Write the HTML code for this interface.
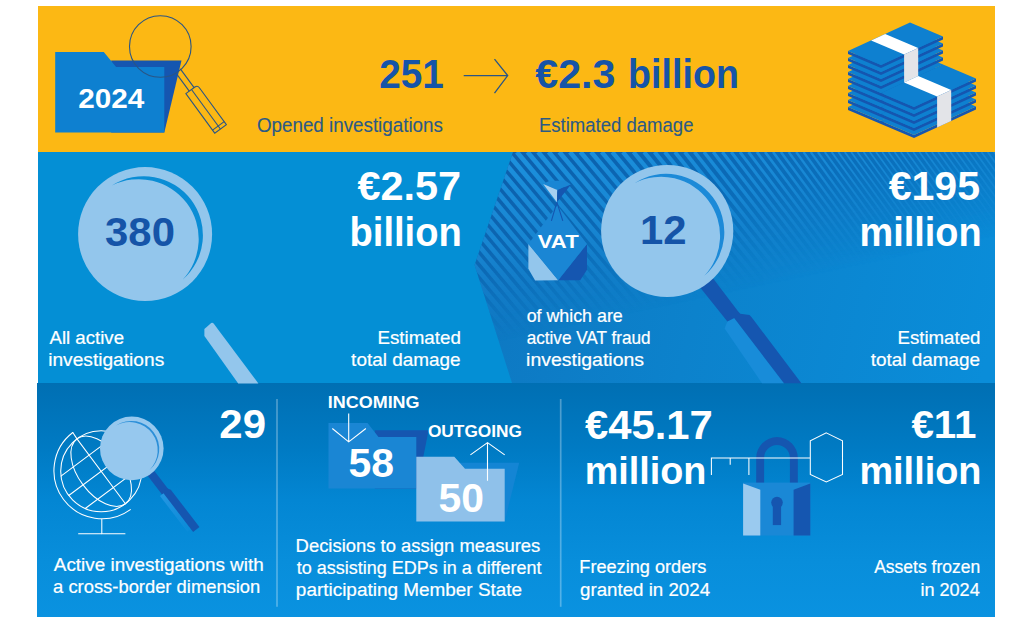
<!DOCTYPE html>
<html lang="en">
<head>
<meta charset="utf-8">
<title>EPPO 2024 investigations infographic</title>
<style>
html,body{margin:0;padding:0;background:#fff;}
body{width:1024px;height:625px;overflow:hidden;font-family:"Liberation Sans",sans-serif;}
svg{display:block;}
svg text{font-family:"Liberation Sans",sans-serif;}
</style>
</head>
<body>
<svg width="1024" height="625" viewBox="0 0 1024 625">
<defs>
<linearGradient id="gBot" x1="0" y1="0" x2="0" y2="1">
  <stop offset="0" stop-color="#006FB3"/>
  <stop offset="0.29" stop-color="#007BC4"/>
  <stop offset="0.5" stop-color="#0386D3"/>
  <stop offset="0.76" stop-color="#088EDB"/>
  <stop offset="1" stop-color="#0A92E0"/>
</linearGradient>
<linearGradient id="gRight" gradientUnits="userSpaceOnUse" x1="474" y1="200" x2="995" y2="330">
  <stop offset="0" stop-color="#0E77C1"/>
  <stop offset="0.45" stop-color="#0C82CC"/>
  <stop offset="1" stop-color="#0A8DD9"/>
</linearGradient>
<linearGradient id="gFade" gradientUnits="userSpaceOnUse" x1="560" y1="152" x2="596" y2="322">
  <stop offset="0" stop-color="#fff" stop-opacity="1"/>
  <stop offset="0.45" stop-color="#fff" stop-opacity="0.75"/>
  <stop offset="1" stop-color="#fff" stop-opacity="0"/>
</linearGradient>
<mask id="mFade" maskUnits="userSpaceOnUse" x="0" y="0" width="1024" height="625">
  <rect x="0" y="0" width="1024" height="625" fill="url(#gFade)"/>
</mask>
<clipPath id="cRight"><polygon points="513,152 995,152 995,383 512,383 474.6,265"/></clipPath>
</defs>
<rect x="38" y="6" width="957" height="147" fill="#FCB814"/>
<rect x="38" y="152" width="957" height="232" fill="#048FD5"/>
<g clip-path="url(#cRight)">
<rect x="470" y="152" width="525" height="231" fill="url(#gRight)"/>
<rect x="470" y="152" width="525" height="231" fill="#0C3F8E" opacity="0.42" mask="url(#mFade)"/>
<g mask="url(#mFade)" stroke="#1C90DC" fill="none"><line x1="251.91" y1="152" x2="445.74" y2="383" stroke-width="4.71"/><line x1="262.51" y1="152" x2="456.34" y2="383" stroke-width="4.71"/><line x1="273.11" y1="152" x2="466.94" y2="383" stroke-width="4.71"/><line x1="283.71" y1="152" x2="477.54" y2="383" stroke-width="4.71"/><line x1="294.31" y1="152" x2="488.14" y2="383" stroke-width="4.71"/><line x1="304.91" y1="152" x2="498.74" y2="383" stroke-width="4.71"/><line x1="315.51" y1="152" x2="509.34" y2="383" stroke-width="4.71"/><line x1="326.11" y1="152" x2="519.94" y2="383" stroke-width="4.71"/><line x1="336.71" y1="152" x2="530.54" y2="383" stroke-width="4.71"/><line x1="347.31" y1="152" x2="541.14" y2="383" stroke-width="4.71"/><line x1="357.91" y1="152" x2="551.74" y2="383" stroke-width="4.71"/><line x1="368.51" y1="152" x2="562.34" y2="383" stroke-width="4.71"/><line x1="379.11" y1="152" x2="572.94" y2="383" stroke-width="4.71"/><line x1="389.71" y1="152" x2="583.54" y2="383" stroke-width="4.71"/><line x1="400.31" y1="152" x2="594.14" y2="383" stroke-width="4.71"/><line x1="410.91" y1="152" x2="604.74" y2="383" stroke-width="4.71"/><line x1="421.51" y1="152" x2="615.34" y2="383" stroke-width="4.71"/><line x1="432.11" y1="152" x2="625.94" y2="383" stroke-width="4.71"/><line x1="442.71" y1="152" x2="636.54" y2="383" stroke-width="4.71"/><line x1="453.31" y1="152" x2="647.14" y2="383" stroke-width="4.71"/><line x1="463.91" y1="152" x2="657.74" y2="383" stroke-width="4.71"/><line x1="474.51" y1="152" x2="668.34" y2="383" stroke-width="4.71"/><line x1="485.11" y1="152" x2="678.94" y2="383" stroke-width="4.71"/><line x1="495.71" y1="152" x2="689.54" y2="383" stroke-width="4.71"/><line x1="506.31" y1="152" x2="700.14" y2="383" stroke-width="4.71"/><line x1="516.91" y1="152" x2="710.74" y2="383" stroke-width="4.71"/><line x1="527.51" y1="152" x2="721.34" y2="383" stroke-width="4.71"/><line x1="538.11" y1="152" x2="731.94" y2="383" stroke-width="4.71"/><line x1="548.71" y1="152" x2="742.54" y2="383" stroke-width="4.71"/><line x1="559.31" y1="152" x2="753.14" y2="383" stroke-width="4.71"/><line x1="569.91" y1="152" x2="763.74" y2="383" stroke-width="4.65"/><line x1="580.51" y1="152" x2="774.34" y2="383" stroke-width="4.58"/><line x1="591.11" y1="152" x2="784.94" y2="383" stroke-width="4.51"/><line x1="601.71" y1="152" x2="795.31" y2="383" stroke-width="4.44"/><line x1="612.31" y1="152" x2="804.46" y2="383" stroke-width="4.39"/><line x1="622.91" y1="152" x2="813.61" y2="383" stroke-width="4.33"/><line x1="633.51" y1="152" x2="822.78" y2="383" stroke-width="4.27"/><line x1="644.11" y1="152" x2="831.96" y2="383" stroke-width="4.22"/><line x1="654.61" y1="152" x2="841.06" y2="383" stroke-width="4.12"/><line x1="664.90" y1="152" x2="849.98" y2="383" stroke-width="3.98"/><line x1="674.98" y1="152" x2="858.73" y2="383" stroke-width="3.85"/><line x1="684.85" y1="152" x2="867.30" y2="383" stroke-width="3.72"/><line x1="694.51" y1="152" x2="875.70" y2="383" stroke-width="3.59"/><line x1="703.98" y1="152" x2="883.94" y2="383" stroke-width="3.47"/><line x1="713.26" y1="152" x2="892.02" y2="383" stroke-width="3.35"/><line x1="722.34" y1="152" x2="899.94" y2="383" stroke-width="3.24"/><line x1="731.24" y1="152" x2="907.69" y2="383" stroke-width="3.13"/><line x1="739.96" y1="152" x2="915.30" y2="383" stroke-width="3.03"/><line x1="748.49" y1="152" x2="922.75" y2="383" stroke-width="2.92"/><line x1="756.85" y1="152" x2="930.06" y2="383" stroke-width="2.83"/><line x1="765.04" y1="152" x2="937.22" y2="383" stroke-width="2.73"/><line x1="773.06" y1="152" x2="944.24" y2="383" stroke-width="2.64"/><line x1="780.92" y1="152" x2="951.11" y2="383" stroke-width="2.55"/><line x1="788.62" y1="152" x2="957.85" y2="383" stroke-width="2.47"/><line x1="796.15" y1="152" x2="964.46" y2="383" stroke-width="2.38"/><line x1="803.54" y1="152" x2="971.37" y2="383" stroke-width="2.30"/><line x1="810.77" y1="152" x2="978.60" y2="383" stroke-width="2.22"/><line x1="817.85" y1="152" x2="985.68" y2="383" stroke-width="2.14"/><line x1="824.79" y1="152" x2="992.62" y2="383" stroke-width="2.07"/><line x1="831.58" y1="152" x2="999.42" y2="383" stroke-width="1.99"/><line x1="838.24" y1="152" x2="1006.07" y2="383" stroke-width="1.92"/><line x1="844.76" y1="152" x2="1012.59" y2="383" stroke-width="1.86"/><line x1="851.15" y1="152" x2="1018.98" y2="383" stroke-width="1.79"/><line x1="857.40" y1="152" x2="1025.23" y2="383" stroke-width="1.73"/><line x1="863.60" y1="152" x2="1031.43" y2="383" stroke-width="1.71"/><line x1="869.80" y1="152" x2="1037.63" y2="383" stroke-width="1.71"/><line x1="876.00" y1="152" x2="1043.83" y2="383" stroke-width="1.71"/><line x1="882.20" y1="152" x2="1050.03" y2="383" stroke-width="1.71"/><line x1="888.40" y1="152" x2="1056.23" y2="383" stroke-width="1.71"/><line x1="894.60" y1="152" x2="1062.43" y2="383" stroke-width="1.71"/><line x1="900.80" y1="152" x2="1068.63" y2="383" stroke-width="1.71"/><line x1="907.00" y1="152" x2="1074.83" y2="383" stroke-width="1.71"/><line x1="913.20" y1="152" x2="1081.03" y2="383" stroke-width="1.71"/><line x1="919.40" y1="152" x2="1087.23" y2="383" stroke-width="1.71"/><line x1="925.60" y1="152" x2="1093.43" y2="383" stroke-width="1.71"/><line x1="931.80" y1="152" x2="1099.63" y2="383" stroke-width="1.71"/><line x1="938.00" y1="152" x2="1105.83" y2="383" stroke-width="1.71"/><line x1="944.20" y1="152" x2="1112.03" y2="383" stroke-width="1.71"/><line x1="950.40" y1="152" x2="1118.23" y2="383" stroke-width="1.71"/><line x1="956.60" y1="152" x2="1124.43" y2="383" stroke-width="1.71"/><line x1="962.80" y1="152" x2="1130.63" y2="383" stroke-width="1.71"/><line x1="969.00" y1="152" x2="1136.83" y2="383" stroke-width="1.71"/><line x1="975.20" y1="152" x2="1143.03" y2="383" stroke-width="1.71"/><line x1="981.40" y1="152" x2="1149.23" y2="383" stroke-width="1.71"/><line x1="987.60" y1="152" x2="1155.43" y2="383" stroke-width="1.71"/><line x1="993.80" y1="152" x2="1161.63" y2="383" stroke-width="1.71"/><line x1="1000.00" y1="152" x2="1167.83" y2="383" stroke-width="1.71"/></g>
</g>
<rect x="37" y="383" width="958" height="234" fill="url(#gBot)"/>
<polygon points="111.2,60.4 181.5,60.4 164.3,132.5 111.2,132.5" fill="#1556B0"/>
<polygon points="55.2,52.1 103.8,52.1 116.1,67.1 164.3,67.1 164.3,132.5 55.2,132.5" fill="#0E80D0"/>
<circle cx="160.3" cy="46.5" r="30.8" fill="none" stroke="#2A5585" stroke-width="1.1"/>
<g transform="translate(178.5 71.4) rotate(53.8)" fill="none" stroke="#2A5585" stroke-width="1.1"><line x1="-1" y1="-3" x2="22.3" y2="-3"/><line x1="1.5" y1="3" x2="22.3" y2="3"/><path d="M22.3 7.2 V-4 Q22.3 -7.2 25.5 -7.2 H71.2 V7.2 Z"/><line x1="22.3" y1="0.2" x2="71.2" y2="0.2"/><line x1="67.5" y1="-7.2" x2="67.5" y2="7.2"/></g>
<text transform="translate(78.16 107.90) scale(1.0813 1)" font-size="27.5" font-weight="bold" fill="#fff" >2024</text>
<text transform="translate(379.14 87.99) scale(0.9422 1)" font-size="41.13" font-weight="bold" fill="#1554A8" >251</text>
<path d="M463.7 75.6 H507.2 M494.5 59.1 L507.7 75.6 L494.5 93.2" fill="none" stroke="#2A5585" stroke-width="1.3"/>
<text transform="translate(535.29 87.89) scale(1.0125 1)" font-size="40.7" font-weight="bold" fill="#1554A8" >€2.3</text>
<text transform="translate(628.05 87.99) scale(0.9165 1)" font-size="41.09" font-weight="bold" fill="#1554A8" >billion</text>
<text transform="translate(256.91 131.60) scale(0.9742 1)" font-size="19.3" font-weight="normal" fill="#2B5A86"  stroke="#2B5A86" stroke-width="0.12">Opened investigations</text>
<text transform="translate(538.97 131.60) scale(0.9609 1)" font-size="19.3" font-weight="normal" fill="#2B5A86"  stroke="#2B5A86" stroke-width="0.12">Estimated damage</text>
<polygon points="848.0,107.0 881.0,121.0 943.0,92.6 943.0,95.6 881.0,124.0 848.0,110.0" fill="#1556B0"/>
<polygon points="848.0,107.0 910.0,78.6 943.0,92.6 881.0,121.0" fill="#0E80D0"/>
<polygon points="848.0,100.0 881.0,114.0 943.0,85.6 943.0,88.6 881.0,117.0 848.0,103.0" fill="#1556B0"/>
<polygon points="848.0,100.0 910.0,71.6 943.0,85.6 881.0,114.0" fill="#0E80D0"/>
<polygon points="848.0,93.0 881.0,107.0 943.0,78.6 943.0,81.6 881.0,110.0 848.0,96.0" fill="#1556B0"/>
<polygon points="848.0,93.0 910.0,64.6 943.0,78.6 881.0,107.0" fill="#0E80D0"/>
<polygon points="848.0,86.0 881.0,100.0 943.0,71.6 943.0,74.6 881.0,103.0 848.0,89.0" fill="#1556B0"/>
<polygon points="848.0,86.0 910.0,57.6 943.0,71.6 881.0,100.0" fill="#0E80D0"/>
<polygon points="848.0,79.0 881.0,93.0 943.0,64.6 943.0,67.6 881.0,96.0 848.0,82.0" fill="#1556B0"/>
<polygon points="848.0,79.0 910.0,50.6 943.0,64.6 881.0,93.0" fill="#0E80D0"/>
<polygon points="848.0,72.0 881.0,86.0 943.0,57.6 943.0,60.6 881.0,89.0 848.0,75.0" fill="#1556B0"/>
<polygon points="848.0,72.0 910.0,43.6 943.0,57.6 881.0,86.0" fill="#0E80D0"/>
<polygon points="848.0,65.0 881.0,79.0 943.0,50.6 943.0,53.6 881.0,82.0 848.0,68.0" fill="#1556B0"/>
<polygon points="848.0,65.0 910.0,36.6 943.0,50.6 881.0,79.0" fill="#0E80D0"/>
<polygon points="848.0,58.0 881.0,72.0 943.0,43.6 943.0,46.6 881.0,75.0 848.0,61.0" fill="#1556B0"/>
<polygon points="848.0,58.0 910.0,29.6 943.0,43.6 881.0,72.0" fill="#0E80D0"/>
<polygon points="848.0,51.0 881.0,65.0 943.0,36.6 943.0,39.6 881.0,68.0 848.0,54.0" fill="#1556B0"/>
<polygon points="848.0,51.0 910.0,22.6 943.0,36.6 881.0,65.0" fill="#0E80D0"/>
<polygon points="881.0,121.0 914.0,135.0 976.0,106.6 976.0,109.6 914.0,138.0 881.0,124.0" fill="#1556B0"/>
<polygon points="881.0,121.0 943.0,92.6 976.0,106.6 914.0,135.0" fill="#0E80D0"/>
<polygon points="881.0,114.0 914.0,128.0 976.0,99.6 976.0,102.6 914.0,131.0 881.0,117.0" fill="#1556B0"/>
<polygon points="881.0,114.0 943.0,85.6 976.0,99.6 914.0,128.0" fill="#0E80D0"/>
<polygon points="881.0,107.0 914.0,121.0 976.0,92.6 976.0,95.6 914.0,124.0 881.0,110.0" fill="#1556B0"/>
<polygon points="881.0,107.0 943.0,78.6 976.0,92.6 914.0,121.0" fill="#0E80D0"/>
<polygon points="881.0,100.0 914.0,114.0 976.0,85.6 976.0,88.6 914.0,117.0 881.0,103.0" fill="#1556B0"/>
<polygon points="881.0,100.0 943.0,71.6 976.0,85.6 914.0,114.0" fill="#0E80D0"/>
<polygon points="881.0,93.0 914.0,107.0 976.0,78.6 976.0,81.6 914.0,110.0 881.0,96.0" fill="#1556B0"/>
<polygon points="881.0,93.0 943.0,64.6 976.0,78.6 914.0,107.0" fill="#0E80D0"/>
<polygon points="871.1,40.4 885.2,34.0 918.2,48.0 904.1,54.4" fill="#fff"/>
<polygon points="904.1,54.4 918.2,48.0 918.2,76.0 904.1,82.4" fill="#E3E4E8"/>
<polygon points="904.1,82.4 918.2,76.0 951.2,90.0 937.1,96.4" fill="#fff"/>
<polygon points="937.1,96.4 951.2,90.0 951.2,121.0 937.1,127.4" fill="#E3E4E8"/>
<circle cx="145.1" cy="234.1" r="67" fill="#93C6EC"/>
<path d="M111.90 185.62 A59.02 59.02 0 0 1 182.53 279.83 A59.78 59.78 0 0 0 111.90 185.62 Z" fill="#0A8DD5"/>
<text transform="translate(105.06 246.09) scale(1.0323 1)" font-size="40.56" font-weight="bold" fill="#1554A8" >380</text>
<path d="M204.4 329 L211.2 323 Q212.6 322.2 213.8 323.8 L258.4 383.5 L238.2 383.5 L204.4 336 Z" fill="#93C6EC"/>
<text transform="translate(49.45 343.90) scale(0.9925 1)" font-size="18.8" font-weight="normal" fill="#fff"  stroke="#fff" stroke-width="0.22">All active</text>
<text transform="translate(48.21 365.80) scale(1.0187 1)" font-size="18.8" font-weight="normal" fill="#fff"  stroke="#fff" stroke-width="0.22">investigations</text>
<text transform="translate(357.39 200.40) scale(1.0356 1)" font-size="40.0" font-weight="bold" fill="#fff" >€2.57</text>
<text transform="translate(349.52 245.89) scale(0.9317 1)" font-size="40.95" font-weight="bold" fill="#fff" >billion</text>
<text transform="translate(377.45 343.90) scale(0.9983 1)" font-size="18.8" font-weight="normal" fill="#fff"  stroke="#fff" stroke-width="0.22">Estimated</text>
<text transform="translate(351.12 365.80) scale(1.0067 1)" font-size="18.8" font-weight="normal" fill="#fff"  stroke="#fff" stroke-width="0.22">total damage</text>
<polygon points="543.2,183.9 549.0,180.9 565.0,180.6 571.0,184.4 557.4,189.9" fill="#1A86D4"/>
<polygon points="543.2,183.9 557.4,189.9 556.9,202.2" fill="#A9D0F0"/>
<polygon points="571.0,184.4 557.4,189.9 556.9,202.2" fill="#1556B0"/>
<polygon points="528.4,243.9 528.4,268.8 535.1,280.6 558.2,280.3" fill="#93C6EC"/>
<polygon points="587.0,243.9 587.0,269.8 580.2,280.3 558.2,280.3" fill="#1556B0"/>
<polygon points="557.4,205.2 587.0,243.9 558.2,280.3 528.4,243.9" fill="#1A86D4"/>
<path d="M556.9 202.2 L551.4 220.9 M556.9 202.2 L562.8 220.9" stroke="#1556B0" stroke-width="1.1" fill="none"/>
<text transform="translate(537.73 248.00) scale(1.2354 1)" font-size="17.89" font-weight="bold" fill="#fff" >VAT</text>
<polygon points="727.4,321.5 734.2,318.0 784.0,383.3 762.0,383.3 724.6,328.6" fill="#188CD9"/>
<polygon points="695.0,281.0 709.0,273.0 738.0,311.3 740.3,313.8 749.5,315.1 751.8,317.6 801.4,383.3 784.0,383.3 734.2,318.0 727.4,321.5" fill="#1556B0"/>
<circle cx="667.2" cy="231" r="66.1" fill="#93C6EC"/>
<path d="M634.45 183.17 A58.22 58.22 0 0 1 704.13 276.12 A58.98 58.98 0 0 0 634.45 183.17 Z" fill="#1C8AD8"/>
<text transform="translate(639.88 244.20) scale(1.0470 1)" font-size="40.0" font-weight="bold" fill="#1554A8" >12</text>
<text transform="translate(526.64 321.90) scale(0.9485 1)" font-size="18.8" font-weight="normal" fill="#fff"  stroke="#fff" stroke-width="0.22">of which are</text>
<text transform="translate(526.67 343.90) scale(0.9122 1)" font-size="18.8" font-weight="normal" fill="#fff"  stroke="#fff" stroke-width="0.22">active VAT fraud</text>
<text transform="translate(526.08 365.80) scale(1.0366 1)" font-size="18.8" font-weight="normal" fill="#fff"  stroke="#fff" stroke-width="0.22">investigations</text>
<text transform="translate(888.69 200.40) scale(1.0263 1)" font-size="40.0" font-weight="bold" fill="#fff" >€195</text>
<text transform="translate(859.54 245.50) scale(0.9467 1)" font-size="40.0" font-weight="bold" fill="#fff" >million</text>
<text transform="translate(897.46 343.90) scale(0.9933 1)" font-size="18.8" font-weight="normal" fill="#fff"  stroke="#fff" stroke-width="0.22">Estimated</text>
<text transform="translate(870.72 365.80) scale(1.0067 1)" font-size="18.8" font-weight="normal" fill="#fff"  stroke="#fff" stroke-width="0.22">total damage</text>
<line x1="277" y1="399" x2="277" y2="606.8" stroke="#fff" stroke-opacity="0.3" stroke-width="1.7"/>
<line x1="560.7" y1="399" x2="560.7" y2="606.8" stroke="#fff" stroke-opacity="0.3" stroke-width="1.7"/>
<g fill="none" stroke="#fff" stroke-width="1.05" stroke-linecap="round">
<circle cx="101.2" cy="471.3" r="40.5"/>
<path d="M72.79 432.49 A48.1 48.1 0 0 0 130.35 509.56"/>
<line x1="72.79" y1="432.49" x2="76.97" y2="438.84"/>
<line x1="76.97" y1="438.84" x2="125.43" y2="503.76"/>
<ellipse cx="101.2" cy="471.3" rx="40.5" ry="22.68" transform="rotate(53.26 101.2 471.3)"/>
<line x1="60.98" y1="476.05" x2="117.19" y2="434.09"/>
<line x1="68.74" y1="495.53" x2="133.66" y2="447.07"/>
<line x1="85.21" y1="508.51" x2="141.42" y2="466.55"/>
<line x1="101.8" y1="519.6" x2="101.8" y2="533.6"/><line x1="78.6" y1="533.8" x2="125" y2="533.8"/>
</g>
<defs><linearGradient id="gH3" gradientUnits="userSpaceOnUse" x1="55" y1="0" x2="100" y2="0"><stop offset="0" stop-color="#2496E2" stop-opacity="1"/><stop offset="1" stop-color="#2496E2" stop-opacity="0.15"/></linearGradient></defs>
<g transform="translate(131.8 448.4) rotate(52.5)"><rect x="28" y="-4.1" width="27" height="8.2" fill="#1556B0"/><rect x="55" y="1.5" width="45" height="5.2" fill="url(#gH3)"/><path d="M53 2.2 V-3.5 L56.5 -5.8 H103.6 V2.2 Z" fill="#1556B0"/></g>
<circle cx="131.8" cy="448.4" r="31.8" fill="#96C8EE"/>
<path d="M116.04 425.39 A28.01 28.01 0 0 1 149.56 470.10 A28.25 28.25 0 0 0 116.04 425.39 Z" fill="#2B8FD8"/>
<text transform="translate(219.33 438.20) scale(1.0444 1)" font-size="40.14" font-weight="bold" fill="#fff" >29</text>
<text transform="translate(53.85 570.80) scale(1.0046 1)" font-size="18.8" font-weight="normal" fill="#fff"  stroke="#fff" stroke-width="0.22">Active investigations with</text>
<text transform="translate(53.12 592.80) scale(0.9770 1)" font-size="18.8" font-weight="normal" fill="#fff"  stroke="#fff" stroke-width="0.22">a cross-border dimension</text>
<polygon points="374.8,430.3 428.6,430.3 417.0,488.5 374.8,488.5" fill="#1556B0"/>
<polygon points="328.5,423.1 367.5,423.1 378.5,437.0 416.3,437.0 416.3,488.5 328.5,488.5" fill="#1A86D4"/>
<polygon points="460.0,462.8 519.2,462.8 504.7,521.6 460.0,521.6" fill="#1485D4"/>
<polygon points="416.3,456.7 454.3,456.7 465.0,468.8 504.7,468.8 504.7,521.6 416.3,521.6" fill="#8FC1EA"/>
<text transform="translate(327.79 407.74) scale(1.0958 1)" font-size="16.4" font-weight="bold" fill="#fff" >INCOMING</text>
<text transform="translate(427.91 436.64) scale(1.0546 1)" font-size="16.4" font-weight="bold" fill="#fff" >OUTGOING</text>
<path d="M348.7 413.5 V441.9 M332.3 428.5 L348.7 441.9 L365.9 428.5" fill="none" stroke="#fff" stroke-width="1.1"/>
<path d="M487.5 480.7 V442.6 M470.4 454.9 L487.5 442.6 L504.7 454.9" fill="none" stroke="#fff" stroke-width="1.1"/>
<text transform="translate(348.57 477.40) scale(1.0167 1)" font-size="40.28" font-weight="bold" fill="#fff" >58</text>
<text transform="translate(438.57 511.60) scale(1.0181 1)" font-size="40.14" font-weight="bold" fill="#fff" >50</text>
<text transform="translate(295.58 551.60) scale(0.9804 1)" font-size="18.8" font-weight="normal" fill="#fff"  stroke="#fff" stroke-width="0.22">Decisions to assign measures</text>
<text transform="translate(296.83 573.60) scale(0.9571 1)" font-size="18.8" font-weight="normal" fill="#fff"  stroke="#fff" stroke-width="0.22">to assisting EDPs in a different</text>
<text transform="translate(295.87 595.60) scale(1.0075 1)" font-size="18.8" font-weight="normal" fill="#fff"  stroke="#fff" stroke-width="0.22">participating Member State</text>
<text transform="translate(585.09 438.80) scale(1.0332 1)" font-size="40.42" font-weight="bold" fill="#fff" >€45.17</text>
<text transform="translate(584.74 483.51) scale(0.9673 1)" font-size="39.05" font-weight="bold" fill="#fff" >million</text>
<text transform="translate(579.30 573.10) scale(0.9665 1)" font-size="18.8" font-weight="normal" fill="#fff"  stroke="#fff" stroke-width="0.22">Freezing orders</text>
<text transform="translate(580.00 596.00) scale(0.9966 1)" font-size="18.8" font-weight="normal" fill="#fff"  stroke="#fff" stroke-width="0.22">granted in 2024</text>
<path d="M756.2 483.5 V457.9 A20.8 20.8 0 0 1 797.8 457.9 V483.5 H789.9 V457.9 A12.9 12.9 0 0 0 764.1 457.9 V483.5 Z" fill="#1556B0"/>
<rect x="743.1" y="482.6" width="67.2" height="52.9" fill="#1A88D6"/>
<polygon points="743.1,483.5 760.3,489.7 760.3,535.5 743.1,535.5" fill="#9ACAEF"/>
<polygon points="793.6,489.7 810.3,483.5 810.3,535.5 793.6,535.5" fill="#1556B0"/>
<circle cx="777" cy="502.6" r="5.8" fill="#1556B0"/><rect x="772.8" y="505" width="8.3" height="20.1" fill="#1556B0"/>
<path d="M711.4 475.1 V457.9 H810.3 M730.2 457.9 V464.7 M748.9 457.9 V475.1 M826.3 432.9 L842.5 440.8 V474.5 L826.3 482 L810.3 474.5 V440.8 Z" fill="none" stroke="#fff" stroke-width="1.05"/>
<text transform="translate(911.40 438.41) scale(1.0241 1)" font-size="39.43" font-weight="bold" fill="#fff" >€11</text>
<text transform="translate(859.44 483.51) scale(0.9698 1)" font-size="39.05" font-weight="bold" fill="#fff" >million</text>
<text transform="translate(874.16 573.10) scale(0.9320 1)" font-size="18.8" font-weight="normal" fill="#fff"  stroke="#fff" stroke-width="0.22">Assets frozen</text>
<text transform="translate(920.38 596.00) scale(0.9620 1)" font-size="18.8" font-weight="normal" fill="#fff"  stroke="#fff" stroke-width="0.22">in 2024</text>
</svg>
</body>
</html>
